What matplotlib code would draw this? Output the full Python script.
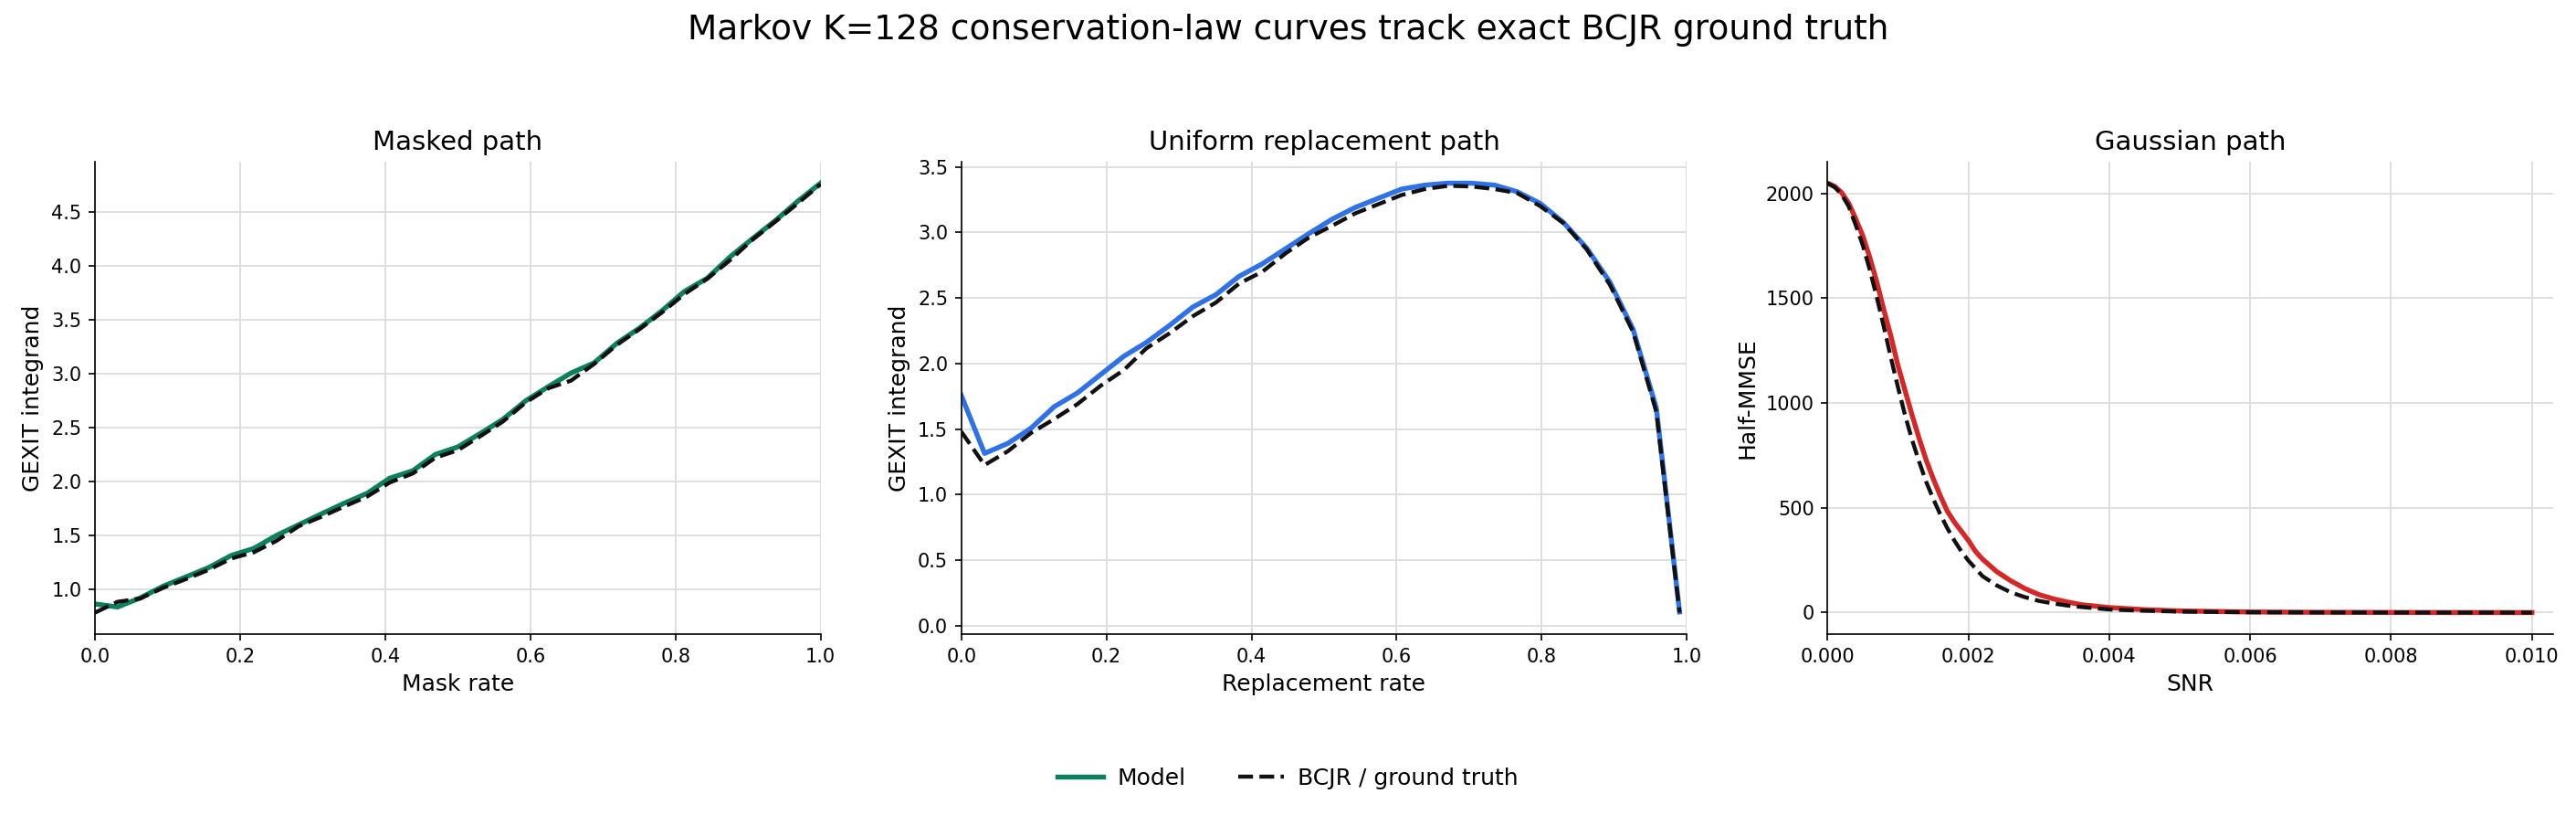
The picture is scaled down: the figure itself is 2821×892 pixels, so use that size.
import numpy as np
import matplotlib.pyplot as plt

# Masked path (mask rate grid k/32)
mask_rate = [0.0, 0.031, 0.062, 0.094, 0.125, 0.156, 0.188, 0.219, 0.25, 0.281, 0.312,
             0.344, 0.375, 0.406, 0.438, 0.469, 0.5, 0.531, 0.562, 0.594, 0.625, 0.656,
             0.688, 0.719, 0.75, 0.781, 0.812, 0.844, 0.875, 0.906, 0.938, 0.969, 1.0]
masked_model = [0.865, 0.837, 0.92, 1.03, 1.115, 1.20, 1.315, 1.38, 1.50, 1.60, 1.70,
                1.80, 1.89, 2.03, 2.10, 2.25, 2.32, 2.445, 2.575, 2.75, 2.88, 3.005,
                3.10, 3.28, 3.42, 3.58, 3.76, 3.885, 4.08, 4.25, 4.42, 4.60, 4.765]
masked_bcjr = [0.785, 0.885, 0.915, 1.015, 1.095, 1.18, 1.287, 1.345, 1.45, 1.587, 1.673,
               1.77, 1.86, 1.99, 2.075, 2.22, 2.29, 2.42, 2.555, 2.735, 2.865, 2.935,
               3.09, 3.265, 3.41, 3.565, 3.735, 3.88, 4.05, 4.24, 4.41, 4.58, 4.755]

# Uniform replacement path
repl_rate = [0.0, 0.032, 0.064, 0.096, 0.128, 0.16, 0.192, 0.224, 0.255, 0.287, 0.319,
             0.351, 0.383, 0.415, 0.447, 0.479, 0.511, 0.543, 0.575, 0.607, 0.639, 0.671,
             0.703, 0.735, 0.766, 0.798, 0.83, 0.862, 0.894, 0.926, 0.958, 0.99]
uniform_model = [1.756, 1.314, 1.39, 1.506, 1.67, 1.775, 1.915, 2.055, 2.16, 2.29, 2.43,
                 2.525, 2.665, 2.76, 2.875, 2.99, 3.10, 3.19, 3.26, 3.33, 3.36, 3.375,
                 3.375, 3.36, 3.31, 3.22, 3.075, 2.88, 2.62, 2.26, 1.66, 0.105]
uniform_bcjr = [1.48, 1.225, 1.33, 1.47, 1.576, 1.69, 1.83, 1.95, 2.115, 2.23, 2.36,
                2.465, 2.61, 2.70, 2.84, 2.96, 3.05, 3.145, 3.215, 3.285, 3.33, 3.355,
                3.35, 3.33, 3.30, 3.20, 3.07, 2.87, 2.60, 2.24, 1.63, 0.10]

# Gaussian path
snr = [0.0, 0.0001, 0.0002, 0.0003, 0.0004, 0.0005, 0.0006, 0.0007, 0.0008, 0.0009,
       0.001, 0.0011, 0.0012, 0.0013, 0.0014, 0.0015, 0.0016, 0.0017, 0.0018, 0.0019,
       0.002, 0.0021, 0.0022, 0.0024, 0.0026, 0.0028, 0.003, 0.0032, 0.0034, 0.0036,
       0.004, 0.0045, 0.005, 0.006, 0.007, 0.008, 0.009, 0.01]
gauss_model = [2049, 2034, 2004, 1953, 1879, 1798, 1694, 1576, 1443, 1318,
               1178, 1060, 942, 831, 728, 639, 558, 484, 432, 388,
               344, 292, 255, 196, 152, 115, 86, 66, 51, 38,
               24, 14, 8, 3, 1.5, 0.8, 0.4, 0.2]
gauss_bcjr = [2049, 2030, 1995, 1938, 1849, 1753, 1635, 1503, 1362, 1215,
              1075, 942, 824, 720, 624, 543, 469, 403, 344, 292,
              248, 211, 174, 130, 97, 74, 56, 44, 34, 27,
              15, 9, 5, 2, 1, 0.5, 0.3, 0.1]

panels = [
    ("Masked path", mask_rate, masked_model, masked_bcjr, "#0b7f5e", "Mask rate", "GEXIT integrand"),
    ("Uniform replacement path", repl_rate, uniform_model, uniform_bcjr, "#2f72e6", "Replacement rate", "GEXIT integrand"),
    ("Gaussian path", snr, gauss_model, gauss_bcjr, "#d62728", "SNR", "Half-MMSE"),
]

fig, axes = plt.subplots(1, 3, figsize=(2821 / 150, 892 / 150), dpi=150)
fig.subplots_adjust(left=0.0369, right=0.9911, bottom=0.222, top=0.8016, wspace=0.194)

for ax, (title, x, model, bcjr, color, xlab, ylab) in zip(axes, panels):
    ax.plot(x, model, color=color, lw=2.6, label="Model")
    ax.plot(x, bcjr, color="#111111", lw=2.1, ls="--", label="BCJR / ground truth")
    ax.set_title(title, fontsize=14)
    ax.set_xlabel(xlab, fontsize=12)
    ax.set_ylabel(ylab, fontsize=12)
    ax.tick_params(labelsize=10)
    ax.grid(True, color="#dddddd", lw=0.9)
    ax.set_axisbelow(True)
    ax.spines["top"].set_visible(False)
    ax.spines["right"].set_visible(False)

axes[0].set_xlim(0, 1)
axes[1].set_xlim(0, 1)
axes[2].set_xlim(0, 0.0103)

handles, labels = axes[0].get_legend_handles_labels()
fig.legend(handles, labels, loc="center", bbox_to_anchor=(0.5, 0.045), ncol=2,
           frameon=False, fontsize=12, handlelength=2.0, handletextpad=0.6,
           columnspacing=2.3)

fig.suptitle("Markov K=128 conservation-law curves track exact BCJR ground truth",
             fontsize=18, y=0.963, va="center")

plt.savefig("out.png", dpi=150)
